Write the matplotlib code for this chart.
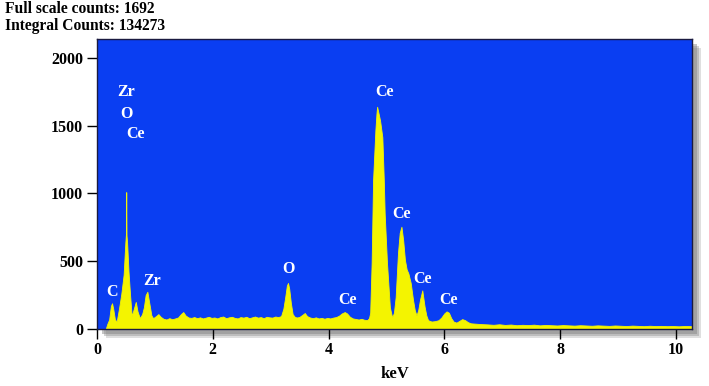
import matplotlib
matplotlib.use("Agg")
import matplotlib.pyplot as plt
from matplotlib.patches import Rectangle

# ---------------- data ----------------
energy_kev = [
    0.15, 0.18, 0.21, 0.24, 0.26, 0.28, 0.31, 0.34, 0.38, 0.42, 0.46, 0.49, 0.50, 0.505, 0.51,
    0.52, 0.545, 0.57, 0.60, 0.63, 0.67, 0.70, 0.74, 0.78, 0.81, 0.84, 0.87, 0.90, 0.94, 0.97,
    1.02, 1.06, 1.10, 1.15, 1.20, 1.25, 1.30, 1.35, 1.40, 1.45, 1.49, 1.53, 1.58,
    1.63, 1.68, 1.73, 1.78, 1.83, 1.88, 1.93, 1.98, 2.03, 2.08, 2.13, 2.18, 2.23, 2.28, 2.33,
    2.38, 2.43, 2.48, 2.53, 2.58, 2.63, 2.68, 2.73, 2.78, 2.83, 2.88, 2.93, 2.98, 3.03, 3.08,
    3.13, 3.18, 3.22, 3.25, 3.28, 3.30, 3.32, 3.35, 3.38, 3.42, 3.46, 3.50, 3.55, 3.59, 3.63,
    3.68, 3.73, 3.78, 3.83, 3.88, 3.93, 3.98, 4.03, 4.08, 4.13, 4.18, 4.23, 4.28, 4.32, 4.37,
    4.42, 4.47, 4.52, 4.57, 4.62, 4.67, 4.70, 4.72, 4.745, 4.77, 4.81, 4.83, 4.84, 4.86, 4.89,
    4.93, 4.955, 4.97, 5.01, 5.06, 5.10, 5.13, 5.16, 5.20, 5.23, 5.26, 5.29, 5.32, 5.35, 5.38,
    5.42, 5.46, 5.49, 5.52, 5.55, 5.58, 5.62, 5.66, 5.69, 5.72, 5.78, 5.84, 5.90, 5.95, 6.00,
    6.04, 6.08, 6.12, 6.16, 6.21, 6.26, 6.31, 6.36, 6.41, 6.46, 6.52, 6.58, 6.65,
    6.75, 6.85, 6.95, 7.05, 7.15, 7.25, 7.35, 7.45, 7.55, 7.65, 7.75, 7.85, 7.95, 8.05, 8.15,
    8.25, 8.35, 8.45, 8.55, 8.65, 8.75, 8.85, 8.95, 9.05, 9.15, 9.25, 9.35, 9.45, 9.55, 9.65,
    9.75, 9.85, 9.95, 10.05, 10.15, 10.28,
]
counts = [
    0, 40, 70, 170, 190, 150, 70, 55, 150, 260, 400, 640, 700, 1010, 690,
    640, 420, 260, 95, 140, 200, 130, 80, 110, 160, 250, 275, 200, 100, 80,
    95, 110, 90, 75, 70, 80, 72, 78, 85, 110, 125, 100, 85,
    82, 88, 80, 86, 78, 84, 90, 82, 85, 78, 88, 92, 80, 86, 90,
    82, 78, 88, 84, 90, 80, 86, 92, 84, 88, 80, 90, 86, 84, 92,
    88, 95, 150, 230, 320, 340, 300, 190, 110, 88, 85, 90, 105, 118, 95,
    85, 80, 86, 78, 82, 76, 82, 78, 84, 88, 98, 115, 125, 115, 90,
    78, 74, 70, 75, 68, 66, 80, 120, 490, 1100, 1470, 1600, 1640, 1600, 1540,
    1415, 1100, 855, 490, 160, 85, 120, 235, 560, 710, 755, 655, 510, 440, 410,
    340, 215, 140, 100, 140, 215, 285, 165, 100, 65, 55, 58, 65, 85, 115,
    130, 120, 80, 55, 47, 60, 73, 65, 50, 42, 40, 38, 36,
    34, 31, 35, 30, 33, 28, 31, 29, 32, 27, 30, 28, 26, 29, 27,
    25, 28, 26, 24, 27, 25, 23, 26, 24, 22, 25, 23, 21, 24, 22,
    23, 21, 22, 20, 22, 21,
]

peak_labels = ["Zr", "O", "Ce", "C", "Zr", "O", "Ce", "Ce", "Ce", "Ce", "Ce"]
label_kev = [0.50, 0.50, 0.66, 0.26, 0.95, 3.30, 4.32, 4.97, 5.26, 5.63, 6.07]
label_counts = [1746, 1587, 1439, 273, 354, 443, 214, 1751, 849, 369, 214]

x_ticks = [0, 2, 4, 6, 8, 10]
y_ticks = [0, 500, 1000, 1500, 2000]
header_lines = ["Full scale counts: 1692", "Integral Counts: 134273"]
x_label = "keV"

# ---------------- style ----------------
BLUE = "#0a3ef2"
YELLOW = "#f4f400"
FONT = "Liberation Serif"

W, H = 709, 386
fig = plt.figure(figsize=(W / 100, H / 100), dpi=100)
fig.patch.set_facecolor("white")

left, right, bottom, top = 97 / W, 692 / W, (H - 329) / H, (H - 39) / H
ax = fig.add_axes([left, bottom, right - left, top - bottom])

# drop shadow
for off, alpha in [(9, 0.25), (7, 0.35), (5, 0.45)]:
    fig.patches.append(Rectangle((left + off / W, bottom - off / H), right - left, top - bottom,
                                 transform=fig.transFigure, facecolor="#808080",
                                 edgecolor="none", alpha=alpha, zorder=0))

ax.set_zorder(2)
ax.set_facecolor(BLUE)
ax.fill_between(energy_kev, counts, 0, color=YELLOW, linewidth=0.6, edgecolor=YELLOW)

ax.set_xlim(0, 10.28)
ax.set_ylim(0, 2140)
ax.set_xticks(x_ticks)
ax.set_yticks(y_ticks)
ax.tick_params(direction="out", length=7, width=1, colors="black", pad=3)
ax.tick_params(axis="x", length=7, pad=2)
for lab in ax.get_xticklabels() + ax.get_yticklabels():
    lab.set_fontfamily(FONT)
    lab.set_fontweight("bold")
    lab.set_fontsize(11.5)
for s in ax.spines.values():
    s.set_color("#1a1a40")
    s.set_linewidth(1.0)

ax.set_xlabel(x_label, fontfamily=FONT, fontweight="bold", fontsize=12, labelpad=6)

for t, xk, yc in zip(peak_labels, label_kev, label_counts):
    ax.text(xk, yc, t, color="white", fontfamily=FONT, fontweight="bold",
            fontsize=11.5, ha="center", va="center")

fig.text(5 / W, 1 - 9 / H, header_lines[0], fontfamily=FONT, fontweight="bold",
         fontsize=11.2, ha="left", va="center")
fig.text(5 / W, 1 - 26 / H, header_lines[1], fontfamily=FONT, fontweight="bold",
         fontsize=11.2, ha="left", va="center")

fig.savefig("out.png", dpi=100)
